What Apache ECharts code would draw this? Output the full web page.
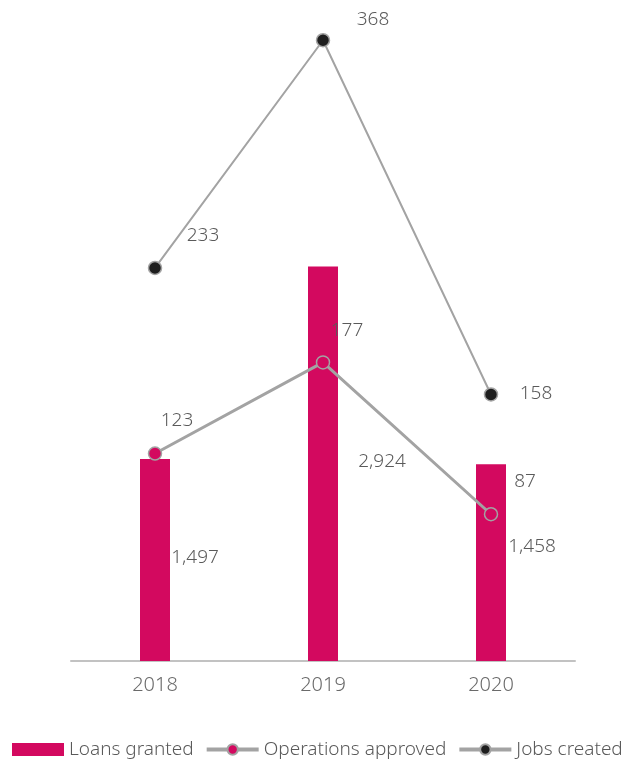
<!DOCTYPE html>
<html>
<head>
<meta charset="utf-8">
<script src="https://cdn.jsdelivr.net/npm/echarts@6/dist/echarts.min.js"></script>
<style>
  html, body { margin: 0; padding: 0; background: #ffffff; }
  #chart { width: 629px; height: 760px; }
</style>
</head>
<body>
<div id="chart"></div>
<script>
// Yearly figures
const years = ['2018', '2019', '2020'];
const loansGranted = [1497, 2924, 1458];
const operationsApproved = [123, 177, 87];
const jobsCreated = [233, 368, 158];

// Per-point label offsets (label centre relative to the mark centre)
const loanLabelOffsets = [[40, -2], [59, -2], [41, -16]];
const opsLabelOffsets = [[22, -33], [24, -32], [34, -33]];
const jobsLabelOffsets = [[48, -32], [50, -21], [45, -1]];

const CRIMSON = '#d3095f';
const LINE_GREY = '#a3a3a3';
const TEXT = '#5a5a5a';
const FONT = 'Noto Sans';

function fmt(v) { return v.toLocaleString('en-US'); }

function withOffsets(values, offsets) {
  return values.map((v, i) => ({
    value: v,
    label: { offset: offsets[i] }
  }));
}

const valueLabel = {
  show: true,
  position: 'inside',
  color: TEXT,
  fontSize: 19,
  fontWeight: 300,
  fontFamily: FONT,
  formatter: p => fmt(p.value)
};

const chart = echarts.init(document.getElementById('chart'));
chart.setOption({
  animation: false,
  textStyle: { fontFamily: FONT },
  grid: { left: 71, right: 54, top: 20, bottom: 99, containLabel: false },
  legend: {
    left: 12,
    top: 740,
    width: 640,
    padding: 0,
    itemWidth: 52,
    itemHeight: 13,
    itemGap: 11,
    textStyle: { fontFamily: FONT, fontSize: 19, fontWeight: 300, color: TEXT },
    data: [
      { name: 'Loans granted', icon: 'rect' },
      { name: 'Operations approved', lineStyle: { width: 4 } },
      { name: 'Jobs created', lineStyle: { width: 4 } }
    ]
  },
  xAxis: {
    type: 'category',
    data: years,
    boundaryGap: true,
    axisLine: { show: true, lineStyle: { color: '#c2c2c2', width: 2 } },
    axisTick: { show: false },
    axisLabel: { color: '#6a6a6a', fontSize: 20, fontWeight: 300, fontFamily: FONT, margin: 14 }
  },
  yAxis: [
    {
      type: 'value', min: 0, max: 4750,
      show: false, splitLine: { show: false }
    },
    {
      type: 'value', min: 0, max: 380,
      show: false, splitLine: { show: false }
    }
  ],
  series: [
    {
      name: 'Loans granted',
      type: 'bar',
      yAxisIndex: 0,
      barWidth: 30,
      itemStyle: { color: CRIMSON },
      data: withOffsets(loansGranted, loanLabelOffsets),
      label: valueLabel,
      z: 1
    },
    {
      name: 'Operations approved',
      type: 'line',
      yAxisIndex: 1,
      symbol: 'circle',
      symbolSize: 13,
      lineStyle: { color: LINE_GREY, width: 3 },
      itemStyle: { color: CRIMSON, borderColor: LINE_GREY, borderWidth: 1.5 },
      data: withOffsets(operationsApproved, opsLabelOffsets),
      label: valueLabel,
      z: 3
    },
    {
      name: 'Jobs created',
      type: 'line',
      yAxisIndex: 1,
      symbol: 'circle',
      symbolSize: 13,
      lineStyle: { color: LINE_GREY, width: 2 },
      itemStyle: { color: '#1e1e1e', borderColor: LINE_GREY, borderWidth: 1.5 },
      data: withOffsets(jobsCreated, jobsLabelOffsets),
      label: valueLabel,
      z: 3
    }
  ]
});
</script>
</body>
</html>
